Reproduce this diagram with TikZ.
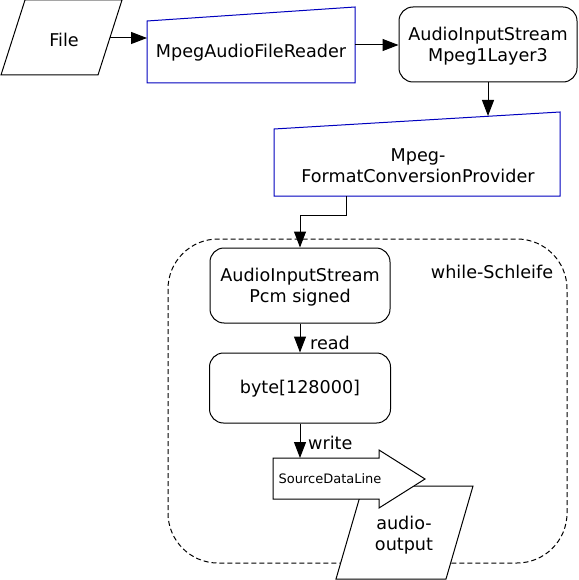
\documentclass[tikz,border=0pt]{standalone}
\usepackage{fontspec}
\setmainfont{DejaVu Sans}
\usetikzlibrary{arrows.meta}
\definecolor{shapeblue}{RGB}{0,0,190}
\tikzset{
  conn/.style={line width=1pt, -{Triangle[length=16pt,width=12pt]}},
  rbox/.style={draw, line width=1pt, rounded corners=14pt, fill=white, align=center,
    font=\fontsize{17.6}{21}\selectfont, inner sep=0pt},
  lbl/.style={font=\fontsize{17.6}{21}\selectfont, align=center, inner sep=0pt},
  manual/.style={draw=shapeblue, line width=1pt, fill=white},
  plain/.style={draw, line width=1pt, fill=white},
  loopbox/.style={draw, line width=1pt, dash pattern=on 5pt off 3pt, rounded corners=50pt},
}
\begin{document}
\begin{tikzpicture}[x=1pt,y=-1pt]
\useasboundingbox (0,0) rectangle (578,580);
% loop frame
\draw[loopbox] (168,239) rectangle (567,563);
\node[lbl] (loop) at (492,272) {while-Schleife};

% File
\draw[plain] (25,0) -- (122,0) -- (98,75) -- (1,75) -- cycle;
\node[lbl] (file) at (64,40) {File};
\coordinate (fileR) at (110,38);

% MpegAudioFileReader
\draw[manual] (147,21) -- (355,7) -- (355,83) -- (147,83) -- cycle;
\node[lbl] (mafr) at (251,53) {MpegAudioFileReader};
\coordinate (mafrL) at (147,38);
\coordinate (mafrR) at (355,45);

% AudioInputStream Mpeg1Layer3
\node[rbox, minimum width=178pt, minimum height=75pt] (ais1) at (488,44.5) {};
\node[lbl] (ais1t) at (488,46.5) {AudioInputStream\\Mpeg1Layer3};

% Mpeg-FormatConversionProvider
\draw[manual] (274,129) -- (560,112) -- (560,196) -- (274,196) -- cycle;
\node[lbl] (mfcp) at (418,166) {Mpeg-\\FormatConversionProvider};
\coordinate (mfcpT) at (488,116);
\coordinate (mfcpB) at (346,196);

% AudioInputStream Pcm signed
\node[rbox, minimum width=180pt, minimum height=75pt] (ais2) at (300,285.5) {};
\node[lbl] (ais2t) at (300,287) {AudioInputStream\\Pcm signed};

% byte buffer
\node[rbox, minimum width=181pt, minimum height=70pt] (buf) at (300,388) {};
\node[lbl] (buft) at (300,389) {byte[128000]};

% audio-output
\draw[plain] (363,486) -- (473,486) -- (446,579) -- (336,579) -- cycle;
\node[lbl] (out) at (404,535) {audio-\\output};

% SourceDataLine
\draw[plain] (273,458) -- (379,458) -- (379,450) -- (425,479) -- (379,508)
  -- (379,499) -- (273,499) -- cycle;
\node[font=\fontsize{13}{15}\selectfont, inner sep=0pt] (sdl) at (330,479) {SourceDataLine};
\coordinate (sdlT) at (300,458);

% connectors
\draw[conn] (fileR) -- (mafrL);
\draw[conn] (mafrR) -- (ais1.west |- mafrR);
\draw[conn] (ais1.south) -- (mfcpT);
\draw[conn] (mfcpB) -- ++(0,19) -| (ais2.north);
\draw[conn] (ais2.south) -- (buf.north);
\node[lbl, anchor=west] (readl) at (310,343) {read};
\draw[conn] (buf.south) -- (sdlT);
\node[lbl, anchor=west] (writel) at (308,443) {write};
\end{tikzpicture}
\end{document}
